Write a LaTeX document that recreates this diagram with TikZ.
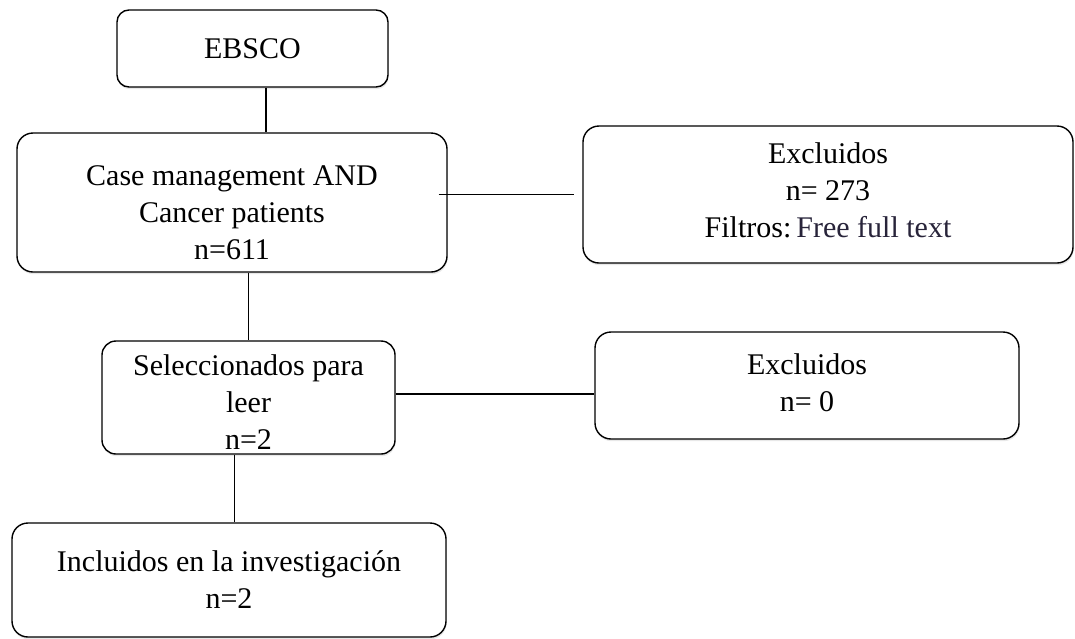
\documentclass[tikz,border=0pt]{standalone}
\usepackage{fontspec}
\setmainfont{Liberation Serif}
\usepackage{tikz}
\usetikzlibrary{positioning, shadows}

\definecolor{filtertext}{RGB}{40,36,58}

\begin{document}
\begin{tikzpicture}[
        x=1pt, y=-1pt,
        stage/.style={rectangle, draw, line width=1.4pt, rounded corners=16pt, fill=white, align=center,
                      inner xsep=4pt, inner ysep=1pt,
                      font=\fontsize{30pt}{37pt}\selectfont,
                      drop shadow={shadow xshift=0.6pt, shadow yshift=-2.2pt, opacity=0.18}},
        link/.style={line width=1.4pt},
    ]
        \useasboundingbox (0,0) rectangle (1075,638);

        % ====== 左列：检索 → 筛选 → 纳入 ======
        \node[stage, rounded corners=12pt, minimum width=271pt, minimum height=77pt] (ebsco) at (252.5,48.5) {EBSCO};
        \node[stage, minimum width=430pt, minimum height=139pt, text height=113pt, text depth=0pt] (query) at (232,202.5)
            {Case management AND\\Cancer patients\\n=611};
        \node[stage, rounded corners=14pt, minimum width=293pt, minimum height=113pt, text height=103pt, text depth=0pt] (select) at (248.5,397.5)
            {Seleccionados para\\leer\\n=2};
        \node[stage, minimum width=434pt, minimum height=114pt] (incl) at (229,580)
            {Incluidos en la investigación\\n=2};

        % ====== 右列：排除 ======
        \node[stage, minimum width=490pt, minimum height=137pt, text depth=8pt] (excl) at (828,194.5)
            {Excluidos\\n= 273\\Filtros:\,{\color{filtertext}Free full text}};
        \node[stage, minimum width=424pt, minimum height=107pt, text depth=6pt] (exclsel) at (807,385.5)
            {Excluidos\\n= 0};

        % ====== 连线 ======
        \draw[link] ([xshift=13.5pt]ebsco.south) -- ([xshift=13.5pt]ebsco.south |- query.north);
        \draw[link] (select.north |- query.south) -- (select.north);
        \draw[link] ([xshift=-14pt]select.south) -- ([xshift=-14pt]select.south |- incl.north);

        % 横向：排除分支
        \draw[link] ([xshift=-9pt]query.east |- excl.west) -- ([xshift=-8pt]excl.west);
        \draw[link] ([yshift=3.5pt]select.east) -- ([yshift=3.5pt]select.east -| exclsel.west);
    \end{tikzpicture}
\end{document}
